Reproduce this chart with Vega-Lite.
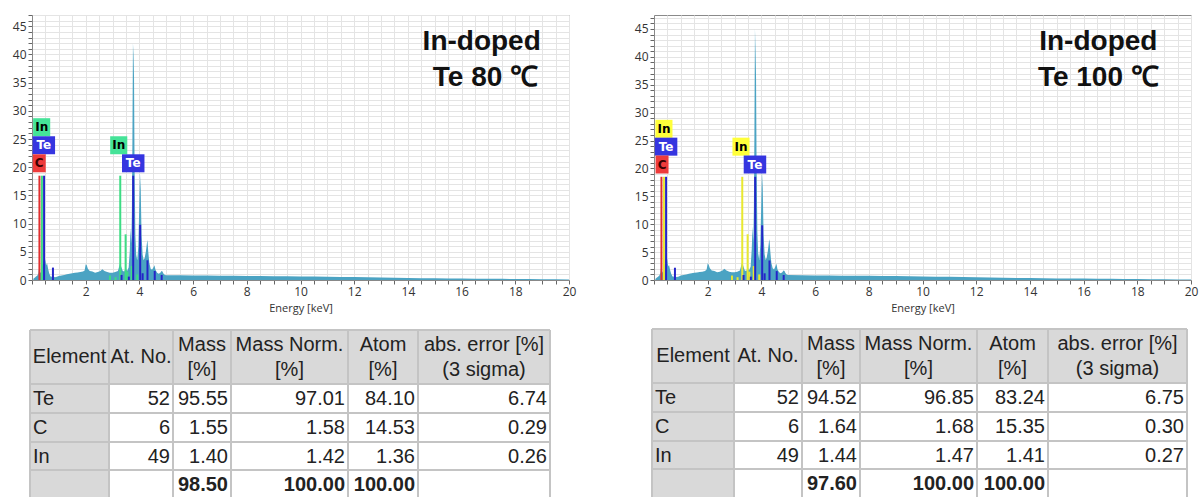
{
  "$schema": "https://vega.github.io/schema/vega-lite/v6.json",
  "padding": {"left": 11, "top": 8, "right": 0, "bottom": 0},
  "background": "white",
  "bounds": "flush",
  "columns": 2,
  "spacing": {"row": 35, "column": 85},
  "datasets": {
    "specL": [
      {"e":0.05,"c":0.2},{"e":0.1,"c":0.4},{"e":0.15,"c":0.6},{"e":0.2,"c":0.8},{"e":0.24,"c":1.2},{"e":0.27,"c":2.4},{"e":0.3,"c":1.2},{"e":0.34,"c":1.5},{"e":0.38,"c":2.5},{"e":0.42,"c":3.2},{"e":0.46,"c":4.1},{"e":0.5,"c":3.4},{"e":0.53,"c":2.6},{"e":0.56,"c":3.0},{"e":0.6,"c":2.0},{"e":0.64,"c":1.2},{"e":0.68,"c":0.7},{"e":0.72,"c":0.5},{"e":0.76,"c":0.9},{"e":0.8,"c":0.6},{"e":0.85,"c":0.5},{"e":0.9,"c":0.55},{"e":1.0,"c":0.7},{"e":1.1,"c":0.8},{"e":1.2,"c":0.9},{"e":1.3,"c":1.0},{"e":1.4,"c":1.1},{"e":1.5,"c":1.2},{"e":1.6,"c":1.3},{"e":1.7,"c":1.35},{"e":1.8,"c":1.4},{"e":1.9,"c":1.5},{"e":1.96,"c":1.7},{"e":2.0,"c":2.8},{"e":2.04,"c":2.6},{"e":2.08,"c":2.0},{"e":2.15,"c":1.6},{"e":2.25,"c":1.5},{"e":2.35,"c":1.3},{"e":2.45,"c":1.4},{"e":2.55,"c":1.6},{"e":2.62,"c":1.9},{"e":2.7,"c":1.6},{"e":2.8,"c":1.4},{"e":2.9,"c":1.3},{"e":3.0,"c":1.3},{"e":3.1,"c":1.4},{"e":3.2,"c":1.6},{"e":3.26,"c":2.6},{"e":3.29,"c":3.1},{"e":3.32,"c":2.4},{"e":3.38,"c":1.6},{"e":3.44,"c":1.5},{"e":3.49,"c":2.2},{"e":3.54,"c":1.6},{"e":3.6,"c":2.2},{"e":3.64,"c":5.0},{"e":3.67,"c":9.2},{"e":3.7,"c":6.5},{"e":3.72,"c":12},{"e":3.74,"c":25},{"e":3.76,"c":42},{"e":3.78,"c":40},{"e":3.8,"c":36},{"e":3.82,"c":20},{"e":3.85,"c":8},{"e":3.88,"c":4.5},{"e":3.92,"c":3.5},{"e":3.96,"c":6},{"e":3.99,"c":12},{"e":4.02,"c":19},{"e":4.05,"c":16},{"e":4.08,"c":8},{"e":4.12,"c":4.5},{"e":4.16,"c":3.5},{"e":4.2,"c":4},{"e":4.24,"c":5},{"e":4.28,"c":6.5},{"e":4.3,"c":7.1},{"e":4.33,"c":5},{"e":4.37,"c":3},{"e":4.42,"c":2},{"e":4.47,"c":1.8},{"e":4.52,"c":2.2},{"e":4.56,"c":2.6},{"e":4.6,"c":1.8},{"e":4.66,"c":1.3},{"e":4.72,"c":1.1},{"e":4.78,"c":1.3},{"e":4.82,"c":1.6},{"e":4.86,"c":1.5},{"e":4.9,"c":1.1},{"e":4.95,"c":0.9},{"e":5.0,"c":0.85},{"e":5.5,"c":0.85},{"e":6,"c":0.8},{"e":6.5,"c":0.8},{"e":7,"c":0.75},{"e":7.5,"c":0.75},{"e":8,"c":0.72},{"e":8.5,"c":0.7},{"e":9,"c":0.68},{"e":9.5,"c":0.66},{"e":10,"c":0.62},{"e":10.5,"c":0.6},{"e":11,"c":0.58},{"e":11.5,"c":0.55},{"e":12,"c":0.52},{"e":12.5,"c":0.5},{"e":13,"c":0.45},{"e":13.5,"c":0.4},{"e":14,"c":0.35},{"e":14.5,"c":0.32},{"e":15,"c":0.3},{"e":15.5,"c":0.28},{"e":16,"c":0.26},{"e":16.5,"c":0.24},{"e":17,"c":0.22},{"e":17.5,"c":0.2},{"e":18,"c":0.18},{"e":18.5,"c":0.16},{"e":19,"c":0.14},{"e":19.5,"c":0.12},{"e":20,"c":0.1}
    ],
    "specR": [
      {"e":0.05,"c":0.2},{"e":0.1,"c":0.4},{"e":0.15,"c":0.6},{"e":0.2,"c":0.8},{"e":0.24,"c":1.3},{"e":0.27,"c":2.6},{"e":0.3,"c":1.3},{"e":0.34,"c":1.6},{"e":0.38,"c":2.6},{"e":0.42,"c":3.6},{"e":0.46,"c":5.3},{"e":0.49,"c":3.8},{"e":0.53,"c":2.4},{"e":0.56,"c":2.7},{"e":0.6,"c":1.8},{"e":0.64,"c":1.1},{"e":0.68,"c":0.7},{"e":0.72,"c":0.5},{"e":0.76,"c":1.0},{"e":0.8,"c":0.6},{"e":0.85,"c":0.55},{"e":0.9,"c":0.6},{"e":1.0,"c":0.8},{"e":1.1,"c":0.9},{"e":1.2,"c":1.0},{"e":1.3,"c":1.1},{"e":1.4,"c":1.2},{"e":1.5,"c":1.3},{"e":1.6,"c":1.35},{"e":1.7,"c":1.45},{"e":1.8,"c":1.5},{"e":1.9,"c":1.6},{"e":1.96,"c":1.9},{"e":2.0,"c":3.0},{"e":2.04,"c":2.7},{"e":2.08,"c":2.1},{"e":2.15,"c":1.7},{"e":2.25,"c":1.6},{"e":2.35,"c":1.4},{"e":2.45,"c":1.5},{"e":2.55,"c":1.7},{"e":2.62,"c":2.0},{"e":2.7,"c":1.7},{"e":2.8,"c":1.5},{"e":2.9,"c":1.4},{"e":3.0,"c":1.4},{"e":3.1,"c":1.5},{"e":3.2,"c":1.7},{"e":3.26,"c":2.8},{"e":3.29,"c":3.4},{"e":3.32,"c":2.6},{"e":3.38,"c":1.7},{"e":3.44,"c":1.6},{"e":3.49,"c":2.3},{"e":3.54,"c":1.7},{"e":3.6,"c":2.4},{"e":3.64,"c":5.5},{"e":3.67,"c":9.6},{"e":3.7,"c":6.8},{"e":3.72,"c":13},{"e":3.74,"c":26},{"e":3.76,"c":45},{"e":3.78,"c":41.5},{"e":3.8,"c":36.5},{"e":3.82,"c":21},{"e":3.85,"c":8.5},{"e":3.88,"c":4.8},{"e":3.92,"c":3.6},{"e":3.96,"c":6.3},{"e":3.99,"c":12.5},{"e":4.02,"c":19.5},{"e":4.05,"c":16.5},{"e":4.08,"c":8.2},{"e":4.12,"c":4.6},{"e":4.16,"c":3.6},{"e":4.2,"c":4.1},{"e":4.24,"c":5.2},{"e":4.28,"c":6.8},{"e":4.3,"c":7.3},{"e":4.33,"c":5.2},{"e":4.37,"c":3.1},{"e":4.42,"c":2.1},{"e":4.47,"c":1.9},{"e":4.52,"c":2.4},{"e":4.56,"c":2.9},{"e":4.6,"c":1.9},{"e":4.66,"c":1.4},{"e":4.72,"c":1.2},{"e":4.78,"c":1.4},{"e":4.82,"c":1.7},{"e":4.86,"c":1.6},{"e":4.9,"c":1.2},{"e":4.95,"c":0.95},{"e":5.0,"c":0.9},{"e":5.5,"c":0.85},{"e":6,"c":0.82},{"e":6.5,"c":0.8},{"e":7,"c":0.78},{"e":7.5,"c":0.76},{"e":8,"c":0.74},{"e":8.5,"c":0.72},{"e":9,"c":0.7},{"e":9.5,"c":0.67},{"e":10,"c":0.63},{"e":10.5,"c":0.6},{"e":11,"c":0.57},{"e":11.5,"c":0.54},{"e":12,"c":0.5},{"e":12.5,"c":0.46},{"e":13,"c":0.42},{"e":13.5,"c":0.38},{"e":14,"c":0.34},{"e":14.5,"c":0.31},{"e":15,"c":0.29},{"e":15.5,"c":0.27},{"e":16,"c":0.25},{"e":16.5,"c":0.23},{"e":17,"c":0.21},{"e":17.5,"c":0.19},{"e":18,"c":0.17},{"e":18.5,"c":0.15},{"e":19,"c":0.13},{"e":19.5,"c":0.11},{"e":20,"c":0.1}
    ],
    "markL": [
      {"e":0.277,"h":18.5,"el":"C"},{"e":0.37,"h":18.5,"el":"In"},{"e":0.45,"h":18.5,"el":"Te"},{"e":0.78,"h":2.2,"el":"Te"},
      {"e":2.904,"h":0.8,"el":"In"},{"e":3.112,"h":0.5,"el":"In"},{"e":3.287,"h":18.5,"el":"In"},{"e":3.335,"h":0.9,"el":"Te"},
      {"e":3.487,"h":8.1,"el":"In"},{"e":3.55,"h":1.5,"el":"In"},{"e":3.606,"h":0.6,"el":"Te"},{"e":3.714,"h":2.5,"el":"In"},
      {"e":3.769,"h":18.5,"el":"Te"},{"e":3.92,"h":1.0,"el":"In"},{"e":4.029,"h":9.8,"el":"Te"},{"e":4.12,"h":1.2,"el":"Te"},
      {"e":4.301,"h":3.5,"el":"Te"},{"e":4.571,"h":1.6,"el":"Te"},{"e":4.83,"h":0.9,"el":"Te"}
    ],
    "markR": [
      {"e":0.277,"h":18.5,"el":"C"},{"e":0.37,"h":18.5,"el":"In"},{"e":0.45,"h":18.5,"el":"Te"},{"e":0.78,"h":2.2,"el":"Te"},
      {"e":2.904,"h":0.8,"el":"In"},{"e":3.112,"h":0.5,"el":"In"},{"e":3.287,"h":18.5,"el":"In"},{"e":3.335,"h":0.9,"el":"Te"},
      {"e":3.487,"h":8.2,"el":"In"},{"e":3.55,"h":1.5,"el":"In"},{"e":3.606,"h":0.6,"el":"Te"},{"e":3.714,"h":2.5,"el":"In"},
      {"e":3.769,"h":18.5,"el":"Te"},{"e":3.92,"h":1.0,"el":"In"},{"e":4.029,"h":9.8,"el":"Te"},{"e":4.12,"h":1.2,"el":"Te"},
      {"e":4.301,"h":3.5,"el":"Te"},{"e":4.571,"h":1.6,"el":"Te"},{"e":4.83,"h":0.9,"el":"Te"}
    ],
    "boxL": [
      {"e":0.36,"v":27.1,"el":"In"},{"e":0.44,"v":23.9,"el":"Te"},{"e":0.27,"v":20.7,"el":"C"},
      {"e":3.23,"v":23.9,"el":"In"},{"e":3.77,"v":20.7,"el":"Te"}
    ],
    "boxR": [
      {"e":0.37,"v":27.1,"el":"In"},{"e":0.45,"v":23.9,"el":"Te"},{"e":0.3,"v":20.7,"el":"C"},
      {"e":3.24,"v":23.9,"el":"In"},{"e":3.76,"v":20.7,"el":"Te"}
    ],
    "tabL": [
      {"n":1,"el":"Te","atno":52,"mass":95.55,"norm":97.01,"atom":84.10,"err":6.74},
      {"n":2,"el":"C","atno":6,"mass":1.55,"norm":1.58,"atom":14.53,"err":0.29},
      {"n":3,"el":"In","atno":49,"mass":1.40,"norm":1.42,"atom":1.36,"err":0.26}
    ],
    "totL": [{"n":4,"mass":98.50,"norm":100.00,"atom":100.00}],
    "tabR": [
      {"n":1,"el":"Te","atno":52,"mass":94.52,"norm":96.85,"atom":83.24,"err":6.75},
      {"n":2,"el":"C","atno":6,"mass":1.64,"norm":1.68,"atom":15.35,"err":0.30},
      {"n":3,"el":"In","atno":49,"mass":1.44,"norm":1.47,"atom":1.41,"err":0.27}
    ],
    "totR": [{"n":4,"mass":97.60,"norm":100.00,"atom":100.00}],
    "bnd": [{"b":0},{"b":1},{"b":2},{"b":3},{"b":4},{"b":5},{"b":6}]
  },
  "concat": [
    {
      "width": 537,
      "height": 265,
      "resolve": {"scale": {"color": "independent"}},
      "layer": [
        {
          "data": {"name": "specL"},
          "mark": {"type": "area", "color": "#4ba3c3", "interpolate": "linear"},
          "encoding": {
            "x": {"field": "e", "type": "quantitative", "scale": {"domain": [0, 20], "nice": false, "zero": false},
              "axis": {"title": "Energy [keV]", "tickCount": 200, "values": [0,0.5,1,1.5,2,2.5,3,3.5,4,4.5,5,5.5,6,6.5,7,7.5,8,8.5,9,9.5,10,10.5,11,11.5,12,12.5,13,13.5,14,14.5,15,15.5,16,16.5,17,17.5,18,18.5,19,19.5,20],
                "labelExpr": "datum.value % 2 === 0 && datum.value > 0 ? '' + datum.value : ''", "labelOverlap": false, "labelFlush": false,
                "grid": true, "gridColor": "#e4e4e4", "tickColor": "#666", "tickSize": 4, "domainColor": "#888",
                "labelFont": "Open Sans", "labelFontSize": 12, "labelColor": "#333", "labelPadding": 2,
                "titleFont": "Open Sans", "titleFontSize": 11, "titleFontWeight": "normal", "titleColor": "#333", "titlePadding": 5}},
            "y": {"field": "c", "type": "quantitative", "scale": {"domain": [0, 47], "nice": false},
              "axis": {"title": null, "tickCount": 200, "values": [0,1,2,3,4,5,6,7,8,9,10,11,12,13,14,15,16,17,18,19,20,21,22,23,24,25,26,27,28,29,30,31,32,33,34,35,36,37,38,39,40,41,42,43,44,45,46,47],
                "labelExpr": "datum.value % 5 === 0 ? '' + datum.value : ''", "labelOverlap": false, "labelFlush": false,
                "grid": true, "gridColor": "#e4e4e4", "tickColor": "#666", "tickSize": 4, "domainColor": "#888",
                "labelFont": "Open Sans", "labelFontSize": 12, "labelColor": "#333", "labelPadding": 2}}
          }
        },
        {
          "data": {"name": "markL"},
          "mark": {"type": "rule", "strokeWidth": 2},
          "encoding": {
            "x": {"field": "e", "type": "quantitative"},
            "y": {"field": "h", "type": "quantitative"},
            "y2": {"datum": 0},
            "color": {"field": "el", "type": "nominal", "legend": null, "scale": {"domain": ["C", "In", "Te"], "range": ["#e03030", "#3ddc84", "#2424c8"]}}
          }
        },
        {
          "data": {"name": "boxL"},
          "mark": {"type": "point", "filled": true, "opacity": 1, "size": 324, "strokeWidth": 0},
          "encoding": {
            "x": {"field": "e", "type": "quantitative"},
            "y": {"field": "v", "type": "quantitative"},
            "shape": {"field": "el", "type": "nominal", "legend": null, "scale": {"domain": ["C", "In", "Te"], "range": ["M-0.72,-1H0.72V1H-0.72Z", "M-0.95,-1H0.95V1H-0.95Z", "M-1.25,-1H1.25V1H-1.25Z"]}},
            "color": {"field": "el", "type": "nominal", "legend": null, "scale": {"domain": ["C", "In", "Te"], "range": ["#ee3b3b", "#45e398", "#3535e0"]}}
          }
        },
        {
          "data": {"name": "boxL"},
          "mark": {"type": "text", "font": "DejaVu Sans", "fontSize": 12, "fontWeight": "bold", "align": "center", "baseline": "middle"},
          "encoding": {
            "x": {"field": "e", "type": "quantitative"},
            "y": {"field": "v", "type": "quantitative"},
            "text": {"field": "el", "type": "nominal"},
            "color": {"field": "el", "type": "nominal", "legend": null, "scale": {"domain": ["C", "In", "Te"], "range": ["#3a0000", "#000000", "#ffffff"]}}
          }
        },
        {
          "data": {"values": [{}]},
          "mark": {"type": "text", "text": "In-doped", "font": "Liberation Sans", "fontSize": 28, "fontWeight": "bold", "align": "right", "baseline": "alphabetic", "color": "#111"},
          "encoding": {"x": {"datum": 18.95, "type": "quantitative"}, "y": {"datum": 40.8, "type": "quantitative"}}
        },
        {
          "data": {"values": [{}]},
          "mark": {"type": "text", "text": "Te 80 ℃", "font": "Liberation Sans", "fontSize": 28, "fontWeight": "bold", "align": "right", "baseline": "alphabetic", "color": "#111"},
          "encoding": {"x": {"datum": 18.85, "type": "quantitative"}, "y": {"datum": 34.4, "type": "quantitative"}}
        }
      ]
    },
    {
      "width": 537,
      "height": 265,
      "resolve": {"scale": {"color": "independent"}},
      "layer": [
        {
          "data": {"name": "specR"},
          "mark": {"type": "area", "color": "#4ba3c3", "interpolate": "linear"},
          "encoding": {
            "x": {"field": "e", "type": "quantitative", "scale": {"domain": [0, 20], "nice": false, "zero": false},
              "axis": {"title": "Energy [keV]", "tickCount": 200, "values": [0,0.5,1,1.5,2,2.5,3,3.5,4,4.5,5,5.5,6,6.5,7,7.5,8,8.5,9,9.5,10,10.5,11,11.5,12,12.5,13,13.5,14,14.5,15,15.5,16,16.5,17,17.5,18,18.5,19,19.5,20],
                "labelExpr": "datum.value % 2 === 0 && datum.value > 0 ? '' + datum.value : ''", "labelOverlap": false, "labelFlush": false,
                "grid": true, "gridColor": "#e4e4e4", "tickColor": "#666", "tickSize": 4, "domainColor": "#888",
                "labelFont": "Open Sans", "labelFontSize": 12, "labelColor": "#333", "labelPadding": 2,
                "titleFont": "Open Sans", "titleFontSize": 11, "titleFontWeight": "normal", "titleColor": "#333", "titlePadding": 5}},
            "y": {"field": "c", "type": "quantitative", "scale": {"domain": [0, 47.5], "nice": false},
              "axis": {"title": null, "tickCount": 200, "values": [0,1,2,3,4,5,6,7,8,9,10,11,12,13,14,15,16,17,18,19,20,21,22,23,24,25,26,27,28,29,30,31,32,33,34,35,36,37,38,39,40,41,42,43,44,45,46,47],
                "labelExpr": "datum.value % 5 === 0 ? '' + datum.value : ''", "labelOverlap": false, "labelFlush": false,
                "grid": true, "gridColor": "#e4e4e4", "tickColor": "#666", "tickSize": 4, "domainColor": "#888",
                "labelFont": "Open Sans", "labelFontSize": 12, "labelColor": "#333", "labelPadding": 2}}
          }
        },
        {
          "data": {"name": "markR"},
          "mark": {"type": "rule", "strokeWidth": 2},
          "encoding": {
            "x": {"field": "e", "type": "quantitative"},
            "y": {"field": "h", "type": "quantitative"},
            "y2": {"datum": 0},
            "color": {"field": "el", "type": "nominal", "legend": null, "scale": {"domain": ["C", "In", "Te"], "range": ["#e03030", "#e8e830", "#2424c8"]}}
          }
        },
        {
          "data": {"name": "boxR"},
          "mark": {"type": "point", "filled": true, "opacity": 1, "size": 324, "strokeWidth": 0},
          "encoding": {
            "x": {"field": "e", "type": "quantitative"},
            "y": {"field": "v", "type": "quantitative"},
            "shape": {"field": "el", "type": "nominal", "legend": null, "scale": {"domain": ["C", "In", "Te"], "range": ["M-0.72,-1H0.72V1H-0.72Z", "M-0.95,-1H0.95V1H-0.95Z", "M-1.25,-1H1.25V1H-1.25Z"]}},
            "color": {"field": "el", "type": "nominal", "legend": null, "scale": {"domain": ["C", "In", "Te"], "range": ["#ee3b3b", "#ffff3a", "#3535e0"]}}
          }
        },
        {
          "data": {"name": "boxR"},
          "mark": {"type": "text", "font": "DejaVu Sans", "fontSize": 12, "fontWeight": "bold", "align": "center", "baseline": "middle"},
          "encoding": {
            "x": {"field": "e", "type": "quantitative"},
            "y": {"field": "v", "type": "quantitative"},
            "text": {"field": "el", "type": "nominal"},
            "color": {"field": "el", "type": "nominal", "legend": null, "scale": {"domain": ["C", "In", "Te"], "range": ["#3a0000", "#000000", "#ffffff"]}}
          }
        },
        {
          "data": {"values": [{}]},
          "mark": {"type": "text", "text": "In-doped", "font": "Liberation Sans", "fontSize": 28, "fontWeight": "bold", "align": "right", "baseline": "alphabetic", "color": "#111"},
          "encoding": {"x": {"datum": 18.75, "type": "quantitative"}, "y": {"datum": 41.2, "type": "quantitative"}}
        },
        {
          "data": {"values": [{}]},
          "mark": {"type": "text", "text": "Te 100 ℃", "font": "Liberation Sans", "fontSize": 28, "fontWeight": "bold", "align": "right", "baseline": "alphabetic", "color": "#111"},
          "encoding": {"x": {"datum": 18.8, "type": "quantitative"}, "y": {"datum": 34.8, "type": "quantitative"}}
        }
      ]
    },
    {
      "width": 537,
      "height": 182,
      "view": {"stroke": null},
      "layer": [
        {
          "data": {"values": [{}]},
          "mark": {"type": "rect", "color": "#d9d9d9"},
          "encoding": {
            "x": {"datum": 0, "type": "quantitative", "axis": null, "scale": {"domain": [0,1,2,3,4,5,6], "range": [-2,77,141,199,316,386,518], "nice": false, "zero": false}},
            "x2": {"datum": 6},
            "y": {"datum": 0, "type": "quantitative", "axis": null, "scale": {"domain": [0,1,2,3,4,5], "range": [15,69,98,127,155,184], "nice": false, "zero": false}},
            "y2": {"datum": 1}
          }
        },
        {
          "data": {"values": [{}]},
          "mark": {"type": "rect", "color": "#d9d9d9"},
          "encoding": {"x": {"datum": 0, "type": "quantitative"}, "x2": {"datum": 1}, "y": {"datum": 1, "type": "quantitative"}, "y2": {"datum": 5}}
        },
        {
          "data": {"name": "bnd"},
          "mark": {"type": "rule", "color": "#c4c4c4", "strokeWidth": 2},
          "encoding": {"x": {"field": "b", "type": "quantitative"}, "y": {"datum": 0, "type": "quantitative"}, "y2": {"datum": 5}}
        },
        {
          "data": {"name": "bnd"},
          "transform": [{"filter": "datum.b <= 5"}],
          "mark": {"type": "rule", "color": "#c4c4c4", "strokeWidth": 2},
          "encoding": {"y": {"field": "b", "type": "quantitative"}, "x": {"datum": 0, "type": "quantitative"}, "x2": {"datum": 6}}
        },
        {"data": {"values": [{}]}, "mark": {"type": "text", "text": "Element", "align": "center", "baseline": "middle", "font": "Liberation Sans", "fontSize": 20, "color": "#222"}, "encoding": {"x": {"datum": 0.5, "type": "quantitative"}, "y": {"datum": 0.5, "type": "quantitative"}}},
        {"data": {"values": [{}]}, "mark": {"type": "text", "text": "At. No.", "align": "center", "baseline": "middle", "font": "Liberation Sans", "fontSize": 20, "color": "#222"}, "encoding": {"x": {"datum": 1.5, "type": "quantitative"}, "y": {"datum": 0.5, "type": "quantitative"}}},
        {"data": {"values": [{}]}, "mark": {"type": "text", "text": "Mass\n[%]", "lineBreak": "\n", "lineHeight": 25, "align": "center", "baseline": "middle", "dy": -12.5, "font": "Liberation Sans", "fontSize": 20, "color": "#222"}, "encoding": {"x": {"datum": 2.5, "type": "quantitative"}, "y": {"datum": 0.5, "type": "quantitative"}}},
        {"data": {"values": [{}]}, "mark": {"type": "text", "text": "Mass Norm.\n[%]", "lineBreak": "\n", "lineHeight": 25, "align": "center", "baseline": "middle", "dy": -12.5, "font": "Liberation Sans", "fontSize": 20, "color": "#222"}, "encoding": {"x": {"datum": 3.5, "type": "quantitative"}, "y": {"datum": 0.5, "type": "quantitative"}}},
        {"data": {"values": [{}]}, "mark": {"type": "text", "text": "Atom\n[%]", "lineBreak": "\n", "lineHeight": 25, "align": "center", "baseline": "middle", "dy": -12.5, "font": "Liberation Sans", "fontSize": 20, "color": "#222"}, "encoding": {"x": {"datum": 4.5, "type": "quantitative"}, "y": {"datum": 0.5, "type": "quantitative"}}},
        {"data": {"values": [{}]}, "mark": {"type": "text", "text": "abs. error [%]\n(3 sigma)", "lineBreak": "\n", "lineHeight": 25, "align": "center", "baseline": "middle", "dy": -12.5, "font": "Liberation Sans", "fontSize": 20, "color": "#222"}, "encoding": {"x": {"datum": 5.5, "type": "quantitative"}, "y": {"datum": 0.5, "type": "quantitative"}}},
        {"data": {"name": "tabL"}, "mark": {"type": "text", "align": "left", "baseline": "middle", "dx": 3, "dy": 14.5, "font": "Liberation Sans", "fontSize": 20, "color": "#222"}, "encoding": {"x": {"datum": 0, "type": "quantitative"}, "y": {"field": "n", "type": "quantitative"}, "text": {"field": "el", "type": "nominal"}}},
        {"data": {"name": "tabL"}, "mark": {"type": "text", "align": "right", "baseline": "middle", "dx": -3, "dy": 14.5, "font": "Liberation Sans", "fontSize": 20, "color": "#222"}, "encoding": {"x": {"datum": 2, "type": "quantitative"}, "y": {"field": "n", "type": "quantitative"}, "text": {"field": "atno", "type": "quantitative", "format": "d"}}},
        {"data": {"name": "tabL"}, "mark": {"type": "text", "align": "right", "baseline": "middle", "dx": -3, "dy": 14.5, "font": "Liberation Sans", "fontSize": 20, "color": "#222"}, "encoding": {"x": {"datum": 3, "type": "quantitative"}, "y": {"field": "n", "type": "quantitative"}, "text": {"field": "mass", "type": "quantitative", "format": ".2f"}}},
        {"data": {"name": "tabL"}, "mark": {"type": "text", "align": "right", "baseline": "middle", "dx": -3, "dy": 14.5, "font": "Liberation Sans", "fontSize": 20, "color": "#222"}, "encoding": {"x": {"datum": 4, "type": "quantitative"}, "y": {"field": "n", "type": "quantitative"}, "text": {"field": "norm", "type": "quantitative", "format": ".2f"}}},
        {"data": {"name": "tabL"}, "mark": {"type": "text", "align": "right", "baseline": "middle", "dx": -3, "dy": 14.5, "font": "Liberation Sans", "fontSize": 20, "color": "#222"}, "encoding": {"x": {"datum": 5, "type": "quantitative"}, "y": {"field": "n", "type": "quantitative"}, "text": {"field": "atom", "type": "quantitative", "format": ".2f"}}},
        {"data": {"name": "tabL"}, "mark": {"type": "text", "align": "right", "baseline": "middle", "dx": -3, "dy": 14.5, "font": "Liberation Sans", "fontSize": 20, "color": "#222"}, "encoding": {"x": {"datum": 6, "type": "quantitative"}, "y": {"field": "n", "type": "quantitative"}, "text": {"field": "err", "type": "quantitative", "format": ".2f"}}},
        {"data": {"name": "totL"}, "mark": {"type": "text", "align": "right", "baseline": "middle", "dx": -3, "dy": 14.5, "font": "Liberation Sans", "fontSize": 20, "fontWeight": "bold", "color": "#222"}, "encoding": {"x": {"datum": 3, "type": "quantitative"}, "y": {"field": "n", "type": "quantitative"}, "text": {"field": "mass", "type": "quantitative", "format": ".2f"}}},
        {"data": {"name": "totL"}, "mark": {"type": "text", "align": "right", "baseline": "middle", "dx": -3, "dy": 14.5, "font": "Liberation Sans", "fontSize": 20, "fontWeight": "bold", "color": "#222"}, "encoding": {"x": {"datum": 4, "type": "quantitative"}, "y": {"field": "n", "type": "quantitative"}, "text": {"field": "norm", "type": "quantitative", "format": ".2f"}}},
        {"data": {"name": "totL"}, "mark": {"type": "text", "align": "right", "baseline": "middle", "dx": -3, "dy": 14.5, "font": "Liberation Sans", "fontSize": 20, "fontWeight": "bold", "color": "#222"}, "encoding": {"x": {"datum": 5, "type": "quantitative"}, "y": {"field": "n", "type": "quantitative"}, "text": {"field": "atom", "type": "quantitative", "format": ".2f"}}}
      ]
    },
    {
      "width": 537,
      "height": 182,
      "view": {"stroke": null},
      "layer": [
        {
          "data": {"values": [{}]},
          "mark": {"type": "rect", "color": "#d9d9d9"},
          "encoding": {
            "x": {"datum": 0, "type": "quantitative", "axis": null, "scale": {"domain": [0,1,2,3,4,5,6], "range": [-2,80,148,206,323,394,533], "nice": false, "zero": false}},
            "x2": {"datum": 6},
            "y": {"datum": 0, "type": "quantitative", "axis": null, "scale": {"domain": [0,1,2,3,4,5], "range": [14,68,97,126,154,183], "nice": false, "zero": false}},
            "y2": {"datum": 1}
          }
        },
        {
          "data": {"values": [{}]},
          "mark": {"type": "rect", "color": "#d9d9d9"},
          "encoding": {"x": {"datum": 0, "type": "quantitative"}, "x2": {"datum": 1}, "y": {"datum": 1, "type": "quantitative"}, "y2": {"datum": 5}}
        },
        {
          "data": {"name": "bnd"},
          "mark": {"type": "rule", "color": "#c4c4c4", "strokeWidth": 2},
          "encoding": {"x": {"field": "b", "type": "quantitative"}, "y": {"datum": 0, "type": "quantitative"}, "y2": {"datum": 5}}
        },
        {
          "data": {"name": "bnd"},
          "transform": [{"filter": "datum.b <= 5"}],
          "mark": {"type": "rule", "color": "#c4c4c4", "strokeWidth": 2},
          "encoding": {"y": {"field": "b", "type": "quantitative"}, "x": {"datum": 0, "type": "quantitative"}, "x2": {"datum": 6}}
        },
        {"data": {"values": [{}]}, "mark": {"type": "text", "text": "Element", "align": "center", "baseline": "middle", "font": "Liberation Sans", "fontSize": 20, "color": "#222"}, "encoding": {"x": {"datum": 0.5, "type": "quantitative"}, "y": {"datum": 0.5, "type": "quantitative"}}},
        {"data": {"values": [{}]}, "mark": {"type": "text", "text": "At. No.", "align": "center", "baseline": "middle", "font": "Liberation Sans", "fontSize": 20, "color": "#222"}, "encoding": {"x": {"datum": 1.5, "type": "quantitative"}, "y": {"datum": 0.5, "type": "quantitative"}}},
        {"data": {"values": [{}]}, "mark": {"type": "text", "text": "Mass\n[%]", "lineBreak": "\n", "lineHeight": 25, "align": "center", "baseline": "middle", "dy": -12.5, "font": "Liberation Sans", "fontSize": 20, "color": "#222"}, "encoding": {"x": {"datum": 2.5, "type": "quantitative"}, "y": {"datum": 0.5, "type": "quantitative"}}},
        {"data": {"values": [{}]}, "mark": {"type": "text", "text": "Mass Norm.\n[%]", "lineBreak": "\n", "lineHeight": 25, "align": "center", "baseline": "middle", "dy": -12.5, "font": "Liberation Sans", "fontSize": 20, "color": "#222"}, "encoding": {"x": {"datum": 3.5, "type": "quantitative"}, "y": {"datum": 0.5, "type": "quantitative"}}},
        {"data": {"values": [{}]}, "mark": {"type": "text", "text": "Atom\n[%]", "lineBreak": "\n", "lineHeight": 25, "align": "center", "baseline": "middle", "dy": -12.5, "font": "Liberation Sans", "fontSize": 20, "color": "#222"}, "encoding": {"x": {"datum": 4.5, "type": "quantitative"}, "y": {"datum": 0.5, "type": "quantitative"}}},
        {"data": {"values": [{}]}, "mark": {"type": "text", "text": "abs. error [%]\n(3 sigma)", "lineBreak": "\n", "lineHeight": 25, "align": "center", "baseline": "middle", "dy": -12.5, "font": "Liberation Sans", "fontSize": 20, "color": "#222"}, "encoding": {"x": {"datum": 5.5, "type": "quantitative"}, "y": {"datum": 0.5, "type": "quantitative"}}},
        {"data": {"name": "tabR"}, "mark": {"type": "text", "align": "left", "baseline": "middle", "dx": 3, "dy": 14.5, "font": "Liberation Sans", "fontSize": 20, "color": "#222"}, "encoding": {"x": {"datum": 0, "type": "quantitative"}, "y": {"field": "n", "type": "quantitative"}, "text": {"field": "el", "type": "nominal"}}},
        {"data": {"name": "tabR"}, "mark": {"type": "text", "align": "right", "baseline": "middle", "dx": -3, "dy": 14.5, "font": "Liberation Sans", "fontSize": 20, "color": "#222"}, "encoding": {"x": {"datum": 2, "type": "quantitative"}, "y": {"field": "n", "type": "quantitative"}, "text": {"field": "atno", "type": "quantitative", "format": "d"}}},
        {"data": {"name": "tabR"}, "mark": {"type": "text", "align": "right", "baseline": "middle", "dx": -3, "dy": 14.5, "font": "Liberation Sans", "fontSize": 20, "color": "#222"}, "encoding": {"x": {"datum": 3, "type": "quantitative"}, "y": {"field": "n", "type": "quantitative"}, "text": {"field": "mass", "type": "quantitative", "format": ".2f"}}},
        {"data": {"name": "tabR"}, "mark": {"type": "text", "align": "right", "baseline": "middle", "dx": -3, "dy": 14.5, "font": "Liberation Sans", "fontSize": 20, "color": "#222"}, "encoding": {"x": {"datum": 4, "type": "quantitative"}, "y": {"field": "n", "type": "quantitative"}, "text": {"field": "norm", "type": "quantitative", "format": ".2f"}}},
        {"data": {"name": "tabR"}, "mark": {"type": "text", "align": "right", "baseline": "middle", "dx": -3, "dy": 14.5, "font": "Liberation Sans", "fontSize": 20, "color": "#222"}, "encoding": {"x": {"datum": 5, "type": "quantitative"}, "y": {"field": "n", "type": "quantitative"}, "text": {"field": "atom", "type": "quantitative", "format": ".2f"}}},
        {"data": {"name": "tabR"}, "mark": {"type": "text", "align": "right", "baseline": "middle", "dx": -3, "dy": 14.5, "font": "Liberation Sans", "fontSize": 20, "color": "#222"}, "encoding": {"x": {"datum": 6, "type": "quantitative"}, "y": {"field": "n", "type": "quantitative"}, "text": {"field": "err", "type": "quantitative", "format": ".2f"}}},
        {"data": {"name": "totR"}, "mark": {"type": "text", "align": "right", "baseline": "middle", "dx": -3, "dy": 14.5, "font": "Liberation Sans", "fontSize": 20, "fontWeight": "bold", "color": "#222"}, "encoding": {"x": {"datum": 3, "type": "quantitative"}, "y": {"field": "n", "type": "quantitative"}, "text": {"field": "mass", "type": "quantitative", "format": ".2f"}}},
        {"data": {"name": "totR"}, "mark": {"type": "text", "align": "right", "baseline": "middle", "dx": -3, "dy": 14.5, "font": "Liberation Sans", "fontSize": 20, "fontWeight": "bold", "color": "#222"}, "encoding": {"x": {"datum": 4, "type": "quantitative"}, "y": {"field": "n", "type": "quantitative"}, "text": {"field": "norm", "type": "quantitative", "format": ".2f"}}},
        {"data": {"name": "totR"}, "mark": {"type": "text", "align": "right", "baseline": "middle", "dx": -3, "dy": 14.5, "font": "Liberation Sans", "fontSize": 20, "fontWeight": "bold", "color": "#222"}, "encoding": {"x": {"datum": 5, "type": "quantitative"}, "y": {"field": "n", "type": "quantitative"}, "text": {"field": "atom", "type": "quantitative", "format": ".2f"}}}
      ]
    }
  ],
  "resolve": {"scale": {"x": "independent", "y": "independent", "color": "independent", "shape": "independent"}},
  "config": {
    "view": {"stroke": "#8a8a8a", "strokeWidth": 1}
  }
}
